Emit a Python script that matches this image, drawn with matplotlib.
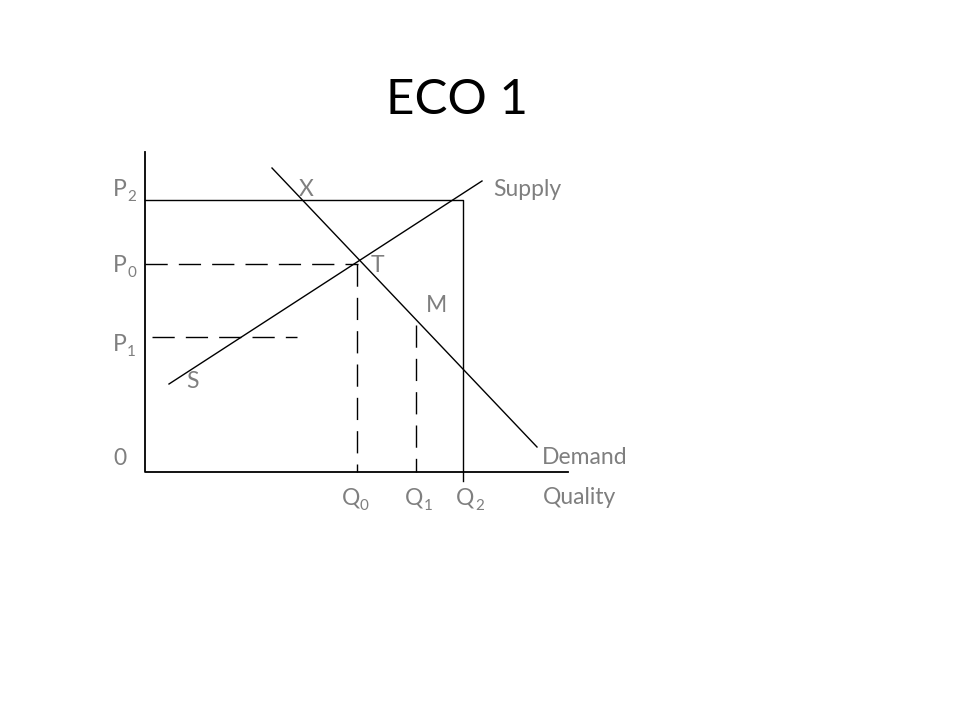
import matplotlib
matplotlib.use("Agg")
import matplotlib.pyplot as plt

# diagram drawn in slide pixel units (x to the right, y downward)
axis_x = [145, 145, 568]
axis_y = [152, 472, 472]

supply_x = [169, 482]
supply_y = [384, 181]
demand_x = [272, 537]
demand_y = [168, 447]

p2_x = [145, 463, 463]
p2_y = [200, 200, 481]

p0_x = [145, 358]
p0_y = [264, 264]
q0_x = [357, 357]
q0_y = [264, 472]
p1_x = [152, 297]
p1_y = [337, 337]
q1_x = [416, 416]
q1_y = [325, 472]

labels = ["P", "P", "P", "0", "S", "X", "T", "M", "Supply", "Demand",
          "Q", "Q", "Q", "Quality"]
label_x = [113, 113, 113, 113, 186, 299, 371, 426, 493, 542, 342, 405, 456, 543]
label_y = [196, 272, 351, 465, 388, 196, 272, 312, 196, 464, 504, 504, 504, 504]

subs = ["2", "0", "1", "0", "1", "2"]
sub_x = [127, 127, 127, 360, 424, 475]
sub_y = [201, 277, 356, 510, 510, 510]

gray = "#7f7f7f"
font = "Lato"

fig = plt.figure(figsize=(9.6, 7.2), dpi=100)
ax = fig.add_axes([0, 0, 1, 1])
ax.set_xlim(0, 960)
ax.set_ylim(720, 0)
ax.axis("off")

lw = 1.0
ax.plot(axis_x, axis_y, color="black", lw=1.3)
ax.plot(supply_x, supply_y, color="black", lw=lw)
ax.plot(demand_x, demand_y, color="black", lw=lw)
ax.plot(p2_x, p2_y, color="black", lw=lw)
for xs, ys in [(p0_x, p0_y), (q0_x, q0_y), (p1_x, p1_y), (q1_x, q1_y)]:
    ax.plot(xs, ys, color="black", lw=lw, dashes=(16, 8))

ax.text(457, 114, "ECO 1", fontsize=35.5, family=font, ha="center",
        va="baseline", color="black")

for t, x, y in zip(labels, label_x, label_y):
    ax.text(x, y, t, fontsize=16.5, family=font, ha="left", va="baseline", color=gray)
for t, x, y in zip(subs, sub_x, sub_y):
    ax.text(x, y, t, fontsize=11, family=font, ha="left", va="baseline", color=gray)

fig.savefig("out.png", dpi=100)
